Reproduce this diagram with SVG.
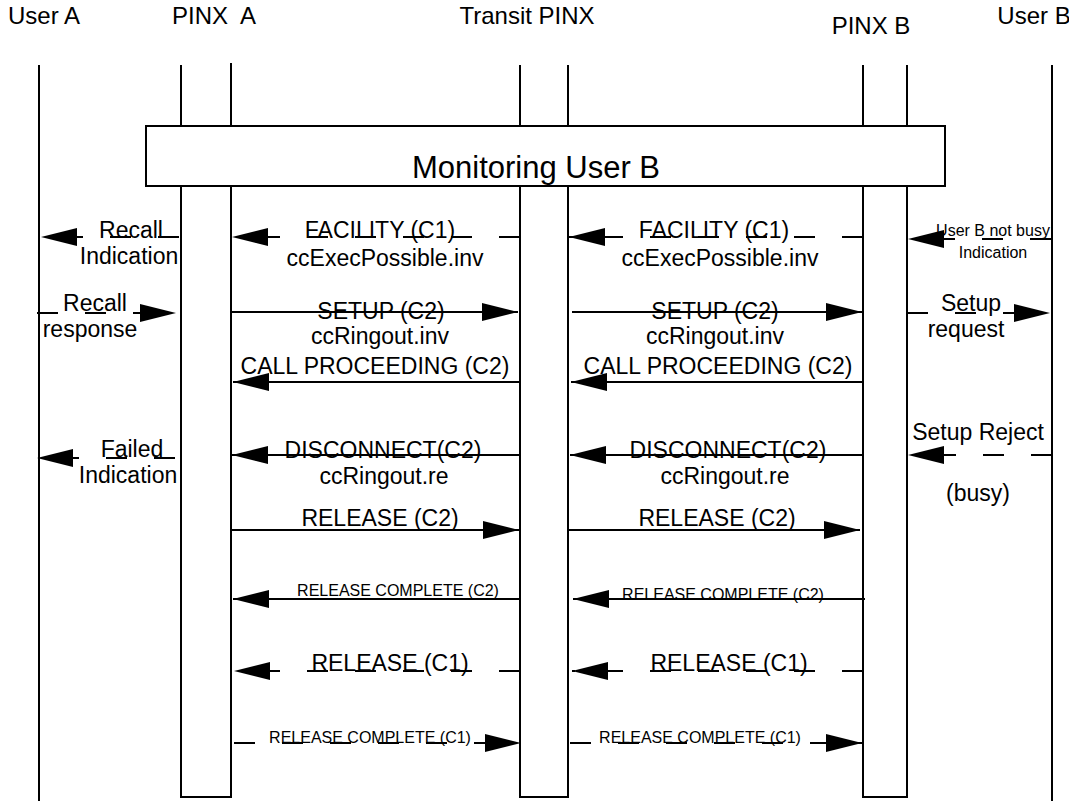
<svg xmlns="http://www.w3.org/2000/svg" width="1069" height="801" viewBox="0 0 1069 801">
<defs>
<marker id="ah" markerUnits="userSpaceOnUse" markerWidth="38" markerHeight="20" refX="36" refY="9" orient="auto" overflow="visible">
<path d="M0,0 L36,9 L0,18 Z" fill="#000" stroke="none"/>
</marker>
<style>
text{font-family:"Liberation Sans",Arial,sans-serif;fill:#000;text-anchor:middle}
.h{font-size:24px}
.m{font-size:23px}
.s{font-size:16px}
.t{font-size:31px}
.life{stroke:#000;stroke-width:2;fill:none}
.msg{stroke:#000;stroke-width:2;fill:none;marker-end:url(#ah)}
.d{stroke-dasharray:21 27}
</style>
</defs>
<rect width="1069" height="801" fill="#fff"/>
<g id="lifelines">
<g id="userA"><text class="h" x="44" y="24">User A</text><line class="life" x1="39" y1="65" x2="39" y2="801"/></g>
<g id="pinxA"><text class="h" x="214" y="24" xml:space="preserve">PINX  A</text><path class="life" d="M181,65 V797 H231 V63"/></g>
<g id="transit"><text class="h" x="527" y="24">Transit PINX</text><path class="life" d="M520,65 V797 H568 V65"/></g>
<g id="pinxB"><text class="h" x="871" y="34">PINX B</text><path class="life" d="M863,65 V797 H907 V65"/></g>
<g id="userB"><text class="h" x="1034" y="24">User B</text><line class="life" x1="1052" y1="65" x2="1052" y2="801"/></g>
</g>
<g id="monitoring"><rect x="146" y="126" width="799" height="60" fill="#fff" stroke="#000" stroke-width="2"/><text class="t" x="536" y="178">Monitoring User B</text></g>
<g id="connectors">
<line class="msg d" x1="179" y1="237" x2="41" y2="237"/>
<line class="msg d" x1="520" y1="237" x2="232" y2="237"/>
<line class="msg d" x1="863" y1="237" x2="569" y2="237"/>
<line class="msg d" x1="1051" y1="239" x2="908" y2="239"/>
<line class="msg d" x1="37" y1="313" x2="176" y2="313"/>
<line class="msg" x1="231" y1="312" x2="518" y2="312"/>
<line class="msg" x1="572" y1="312" x2="862" y2="312"/>
<line class="msg d" x1="907" y1="313" x2="1050" y2="313"/>
<line class="msg" x1="520" y1="382" x2="233" y2="382"/>
<line class="msg" x1="863" y1="382" x2="571" y2="382"/>
<line class="msg d" x1="175" y1="458" x2="37" y2="458"/>
<line class="msg" x1="520" y1="455" x2="232" y2="455"/>
<line class="msg" x1="863" y1="455" x2="570" y2="455"/>
<line class="msg d" x1="1052" y1="455" x2="908" y2="455"/>
<line class="msg" x1="232" y1="530" x2="519" y2="530"/>
<line class="msg" x1="569" y1="530" x2="860" y2="530"/>
<line class="msg" x1="520" y1="599" x2="233" y2="599"/>
<line class="msg" x1="865" y1="599" x2="573" y2="599"/>
<line class="msg d" x1="520" y1="671" x2="234" y2="671"/>
<line class="msg d" x1="863" y1="671" x2="572" y2="671"/>
<line class="msg d" x1="234" y1="743" x2="521" y2="743"/>
<line class="msg d" x1="570" y1="743" x2="862" y2="743"/>
</g>
<g id="labels">
<text class="m" x="131" y="238">Recall</text>
<text class="m" x="129" y="264">Indication</text>
<text class="m" x="380" y="238">FACILITY (C1)</text>
<text class="m" x="385" y="266">ccExecPossible.inv</text>
<text class="m" x="714" y="238">FACILITY (C1)</text>
<text class="m" x="720" y="266">ccExecPossible.inv</text>
<text class="s" x="993" y="236">User B not busy</text>
<text class="s" x="993" y="258">Indication</text>
<text class="m" x="95" y="311">Recall</text>
<text class="m" x="90" y="337">response</text>
<text class="m" x="381" y="319">SETUP (C2)</text>
<text class="m" x="380" y="344">ccRingout.inv</text>
<text class="m" x="715" y="319">SETUP (C2)</text>
<text class="m" x="715" y="344">ccRingout.inv</text>
<text class="m" x="971" y="311">Setup</text>
<text class="m" x="966" y="337">request</text>
<text class="m" x="375" y="374">CALL PROCEEDING (C2)</text>
<text class="m" x="718" y="374">CALL PROCEEDING (C2)</text>
<text class="m" x="132" y="457">Failed</text>
<text class="m" x="128" y="483">Indication</text>
<text class="m" x="383" y="458">DISCONNECT(C2)</text>
<text class="m" x="384" y="484">ccRingout.re</text>
<text class="m" x="728" y="458">DISCONNECT(C2)</text>
<text class="m" x="725" y="484">ccRingout.re</text>
<text class="m" x="978" y="440">Setup Reject</text>
<text class="m" x="978" y="501">(busy)</text>
<text class="m" x="380" y="526">RELEASE (C2)</text>
<text class="m" x="717" y="526">RELEASE (C2)</text>
<text class="s" x="398" y="596">RELEASE COMPLETE (C2)</text>
<text class="s" x="723" y="600">RELEASE COMPLETE (C2)</text>
<text class="m" x="390" y="671">RELEASE (C1)</text>
<text class="m" x="729" y="671">RELEASE (C1)</text>
<text class="s" x="370" y="743">RELEASE COMPLETE (C1)</text>
<text class="s" x="700" y="743">RELEASE COMPLETE (C1)</text>
</g>
</svg>
